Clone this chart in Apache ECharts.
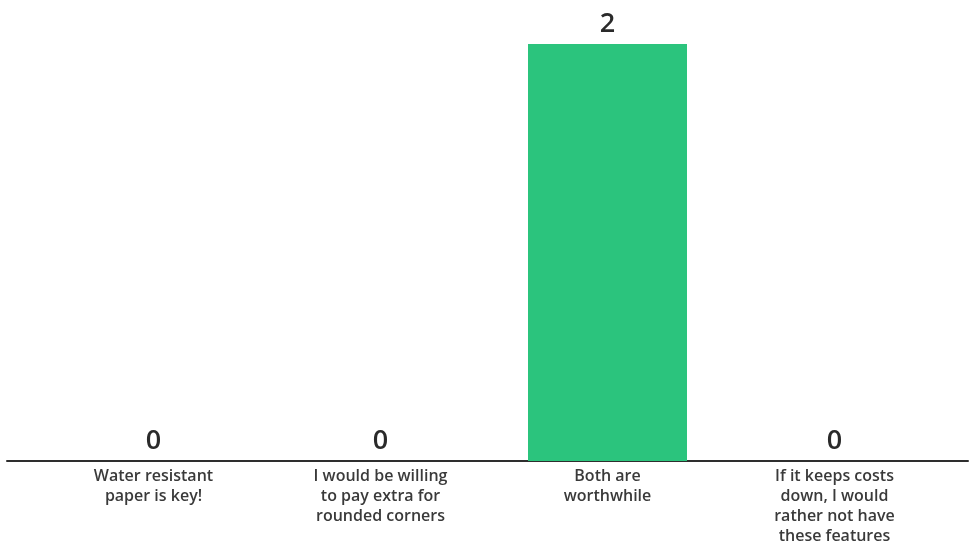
<!DOCTYPE html>
<html>
<head>
<meta charset="utf-8">
<script src="https://cdn.jsdelivr.net/npm/echarts@6/dist/echarts.min.js"></script>
<style>
html,body{margin:0;padding:0;background:#fff;}
#chart{width:971px;height:546px;}
</style>
</head>
<body>
<div id="chart"></div>
<script>
const categories = [
  "Water resistant\npaper is key!",
  "I would be willing\nto pay extra for\nrounded corners",
  "Both are\nworthwhile",
  "If it keeps costs\ndown, I would\nrather not have\nthese features"
];
const values = [0, 0, 2, 0];

const chart = echarts.init(document.getElementById('chart'), null, {renderer: 'canvas'});
chart.setOption({
  backgroundColor: '#ffffff',
  animation: false,
  grid: [
    {left: 40, right: 23, top: 44, bottom: 85, containLabel: false},
    {left: 7, right: 3, top: 44, bottom: 85, containLabel: false}
  ],
  xAxis: [
    {
      type: 'category',
      gridIndex: 0,
      data: categories,
      axisLine: {show: false},
      axisTick: {show: false},
      axisLabel: {
        color: '#3a3a3a',
        fontFamily: 'Open Sans',
        fontSize: 16,
        fontWeight: 600,
        lineHeight: 20,
        margin: 5,
        interval: 0
      }
    },
    {
      type: 'value',
      gridIndex: 1,
      min: 0, max: 1,
      axisLine: {show: true, lineStyle: {color: '#2e2e2e', width: 2}},
      axisTick: {show: false},
      axisLabel: {show: false},
      splitLine: {show: false}
    }
  ],
  yAxis: [
    {type: 'value', gridIndex: 0, min: 0, max: 2, show: false},
    {type: 'value', gridIndex: 1, min: 0, max: 1, show: false}
  ],
  series: [{
    type: 'bar',
    xAxisIndex: 0,
    yAxisIndex: 0,
    data: values,
    barWidth: 159,
    itemStyle: {color: '#2bc47d'},
    label: {
      show: true,
      position: 'top',
      distance: 6,
      color: '#2a2a2a',
      fontFamily: 'Open Sans',
      fontSize: 27,
      fontWeight: 600
    }
  }]
});
</script>
</body>
</html>
